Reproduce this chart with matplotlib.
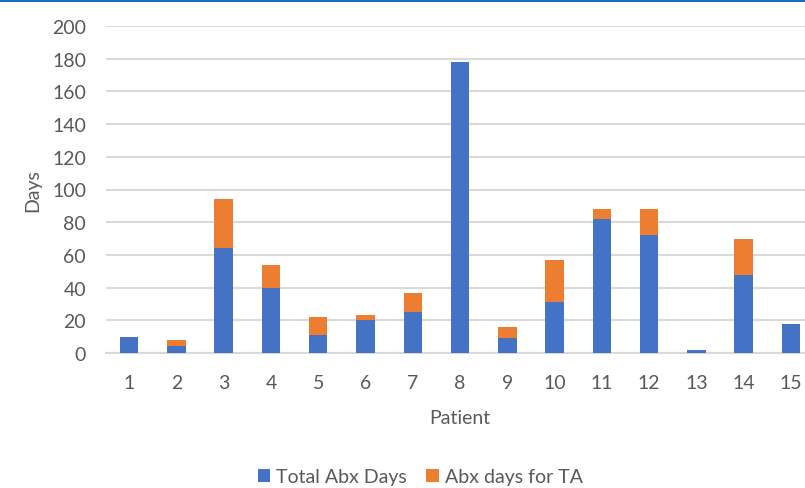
import matplotlib
matplotlib.use("Agg")
import matplotlib.pyplot as plt
import numpy as np

patients = [str(i) for i in range(1, 16)]
total_abx_days = [10, 4, 64, 40, 11, 20, 25, 178, 9, 31, 82, 72, 2, 48, 18]
abx_days_for_ta = [0, 4, 30, 14, 11, 3, 12, 0, 7, 26, 6, 16, 0, 22, 0]
y_ticks = list(range(0, 201, 20))

BLUE = "#4472C4"
ORANGE = "#ED7D31"
GRID = "#D9D9D9"
TEXT = "#595959"
FS = 14

plt.rcParams["font.family"] = ["Lato", "DejaVu Sans"]
plt.rcParams["font.size"] = FS

fig = plt.figure(figsize=(8.05, 4.89), dpi=100)
W, H = 805, 489
left, right, bottom, top = 105.5, 814.6, 354, 27
ax = fig.add_axes([left / W, 1 - bottom / H, (right - left) / W, (bottom - top) / H])

x = np.arange(len(patients))
ax.bar(x, total_abx_days, width=0.39, color=BLUE, label="Total Abx Days", zorder=3)
ax.bar(x, abx_days_for_ta, width=0.39, bottom=total_abx_days, color=ORANGE,
       label="Abx days for TA", zorder=3)

ax.set_xlim(-0.5, len(patients) - 0.5)
ax.set_ylim(0, 200)
ax.set_yticks(y_ticks)
ax.set_xticks(x)
ax.set_xticklabels(patients)
ax.yaxis.grid(True, color=GRID, linewidth=1.5, zorder=0)
ax.set_axisbelow(True)
for side in ("top", "right", "left"):
    ax.spines[side].set_visible(False)
ax.spines["bottom"].set_color(GRID)
ax.spines["bottom"].set_linewidth(1.5)
ax.tick_params(axis="both", length=0, colors=TEXT, labelsize=FS)
ax.tick_params(axis="x", pad=15)
ax.tick_params(axis="y", pad=14)

ax.set_xlabel("Patient", color=TEXT, fontsize=FS, labelpad=13)
ax.set_ylabel("Days", color=TEXT, fontsize=FS, labelpad=8)

leg = fig.legend(loc="center", bbox_to_anchor=(0.522, 1 - 478 / H), ncol=2,
                 frameon=False, handlelength=0.65, handleheight=0.65,
                 handletextpad=0.3, columnspacing=1.0, fontsize=FS)
for t in leg.get_texts():
    t.set_color(TEXT)

# thin blue frame line along the top edge
fig.add_artist(plt.Rectangle((0, 1 - 2.5 / H), 1, 2.5 / H, transform=fig.transFigure,
                             color="#1F6BC4", linewidth=0))

fig.savefig("out.png", dpi=100)
